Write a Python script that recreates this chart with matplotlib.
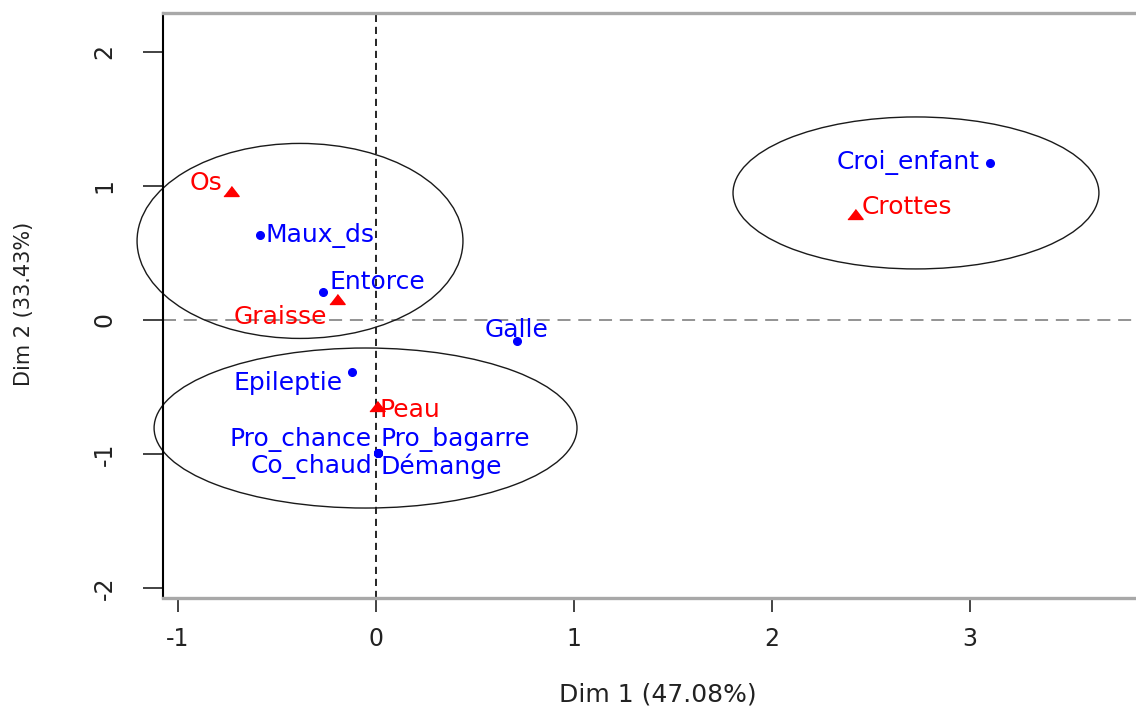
import matplotlib
matplotlib.use("Agg")
import matplotlib.pyplot as plt
from matplotlib.patches import Ellipse

# Column categories (blue) and their coordinates on Dim 1 / Dim 2
col_labels = ["Maux_ds", "Entorce", "Galle", "Epileptie", "Pro_chance",
              "Pro_bagarre", "Co_chaud", "Démange", "Croi_enfant"]
col_dim1 = [-0.586, -0.268, 0.712, -0.121, 0.010, 0.010, 0.010, 0.010, 3.101]
col_dim2 = [0.634, 0.209, -0.157, -0.388, -0.993, -0.993, -0.993, -0.993, 1.172]

# Row categories (red)
row_labels = ["Os", "Graisse", "Peau", "Crottes"]
row_dim1 = [-0.732, -0.197, 0.005, 2.419]
row_dim2 = [0.963, 0.157, -0.642, 0.791]

# Cluster ellipses: centre, full width, full height
ell_cx = [-0.384, -0.053, 2.727]
ell_cy = [0.590, -0.806, 0.948]
ell_w = [1.646, 2.136, 1.848]
ell_h = [1.455, 1.194, 1.134]

x_ticks = [-1, 0, 1, 2, 3]
y_ticks = [-2, -1, 0, 1, 2]
x_title = "Dim 1 (47.08%)"
y_title = "Dim 2 (33.43%)"

# label placement: (ha, dx pt, dy pt)
placement = {
    "Os": ("right", -6.5, 6),
    "Maux_ds": ("left", 4, 0),
    "Entorce": ("left", 5, 7.2),
    "Graisse": ("right", -7.2, -13),
    "Galle": ("center", 0, 8),
    "Epileptie": ("right", -6.5, -8),
    "Peau": ("left", 2, -3),
    "Pro_chance": ("right", -4.3, 10),
    "Pro_bagarre": ("left", 1.5, 10),
    "Co_chaud": ("right", -4.3, -9.4),
    "Démange": ("left", 1.5, -9.4),
    "Croi_enfant": ("right", -7.2, 0),
    "Crottes": ("left", 5, 5),
}

plt.rcParams["font.family"] = ["DejaVu Sans"]

fig = plt.figure(figsize=(11.36, 7.06), dpi=100)
ax = fig.add_axes([163 / 1136, 0.1534, (1150 - 163) / 1136, 0.8275])
ax.set_xlim(-1.076, 3.909)
ax.set_ylim(-2.072, 2.287)

# reference axes through the origin
ax.axvline(0, color="black", lw=1.2, dashes=(4.3, 2.9), zorder=1)
ax.axhline(0, color="#8a8a8a", lw=1.3, dashes=(7.2, 4.3), zorder=1)

for cx, cy, w, h in zip(ell_cx, ell_cy, ell_w, ell_h):
    ax.add_patch(Ellipse((cx, cy), w, h, fill=False, edgecolor="#1a1a1a",
                         lw=1.0, zorder=2, clip_on=False))

ax.plot(col_dim1, col_dim2, linestyle="none", marker="o", ms=5.5,
        color="blue", zorder=3)
tri = [(-1, -0.65), (1, -0.65), (0, 0.65)]
ax.plot(row_dim1, row_dim2, linestyle="none", marker=tri, ms=11,
        color="red", zorder=3)

def put_labels(labels, xs, ys, color):
    for lab, x, y in zip(labels, xs, ys):
        ha, dx, dy = placement[lab]
        ax.annotate(lab, (x, y), xytext=(dx, dy), textcoords="offset points",
                    ha=ha, va="center", color=color, fontsize=18, zorder=4)

put_labels(col_labels, col_dim1, col_dim2, "blue")
put_labels(row_labels, row_dim1, row_dim2, "red")

# frame
ax.spines["left"].set_color("black")
ax.spines["left"].set_linewidth(1.5)
for side in ("top", "bottom"):
    ax.spines[side].set_color("#a8a8a8")
    ax.spines[side].set_linewidth(2.4)
ax.spines["right"].set_visible(False)

ax.set_xticks(x_ticks)
ax.set_yticks(y_ticks)
ax.set_xticklabels([str(t) for t in x_ticks])
ax.set_yticklabels([str(t) for t in y_ticks], rotation=90, va="center")
ax.tick_params(axis="x", length=10, width=1.2, pad=11, labelsize=17,
               colors="#222222")
ax.tick_params(axis="y", length=14.4, width=1.2, pad=19, labelsize=17,
               colors="#222222")

ax.set_xlabel(x_title, fontsize=18, color="#222222")
ax.xaxis.set_label_coords(0.5015, -0.165)
ax.xaxis.label.set_va("center")
ax.set_ylabel(y_title, fontsize=15, color="#222222")
ax.yaxis.set_label_coords(-0.1408, 0.5027)
ax.yaxis.label.set_va("center")

fig.savefig("out.png", dpi=100)
